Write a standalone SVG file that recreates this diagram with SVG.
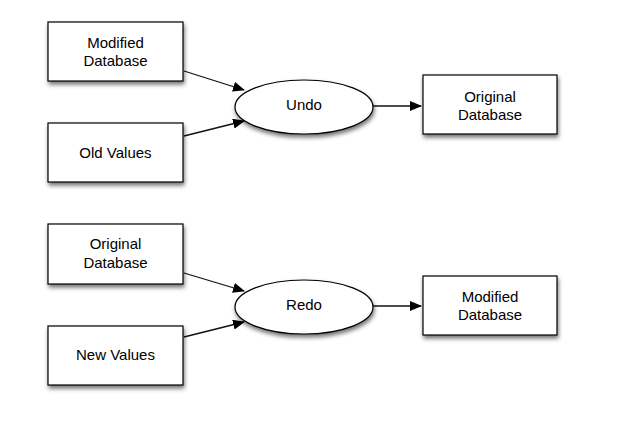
<svg xmlns="http://www.w3.org/2000/svg" width="634" height="433" viewBox="0 0 634 433">
<style>
.n{fill:#fff;stroke:#000;stroke-width:1.2;filter:url(#sh)}
.t{font-family:"Liberation Sans",Arial,sans-serif;font-size:15px;fill:#000;text-anchor:middle}
.c{stroke:#111;stroke-width:1.3;fill:none;marker-end:url(#ah)}
</style>
<defs>
<filter id="sh" x="-20%" y="-20%" width="140%" height="150%">
<feDropShadow dx="1" dy="3" stdDeviation="2" flood-color="#000" flood-opacity="0.55"/>
</filter>
<marker id="ah" markerWidth="12" markerHeight="10" refX="11" refY="5" orient="auto" markerUnits="userSpaceOnUse">
<path d="M0,0 L12,5 L0,10 z" fill="#000"/>
</marker>
</defs>
<rect width="634" height="433" fill="#fff"/>
<g id="connectors">
<line class="c" x1="184" y1="71" x2="244" y2="90"/>
<line class="c" x1="184" y1="136" x2="244" y2="121"/>
<line class="c" x1="373" y1="106" x2="421" y2="106"/>
<line class="c" x1="184" y1="273" x2="244" y2="291"/>
<line class="c" x1="184" y1="337" x2="244" y2="322"/>
<line class="c" x1="373" y1="306" x2="421" y2="306"/>
</g>
<g id="modified1">
<rect class="n" x="48" y="22" width="135" height="59"/>
<text class="t" x="115.5" y="48">Modified</text>
<text class="t" x="115.5" y="66">Database</text>
</g>
<g id="oldvalues">
<rect class="n" x="48" y="123" width="135" height="59"/>
<text class="t" x="115.5" y="158">Old Values</text>
</g>
<g id="undo">
<ellipse class="n" cx="304" cy="107" rx="69" ry="27"/>
<text class="t" x="304" y="110">Undo</text>
</g>
<g id="original1">
<rect class="n" x="423" y="75" width="134" height="59"/>
<text class="t" x="490" y="102">Original</text>
<text class="t" x="490" y="120">Database</text>
</g>
<g id="original2">
<rect class="n" x="48" y="224" width="135" height="60"/>
<text class="t" x="115.5" y="249">Original</text>
<text class="t" x="115.5" y="268">Database</text>
</g>
<g id="newvalues">
<rect class="n" x="48" y="326" width="135" height="59"/>
<text class="t" x="115.5" y="360">New Values</text>
</g>
<g id="redo">
<ellipse class="n" cx="304" cy="307" rx="69" ry="27"/>
<text class="t" x="304" y="310">Redo</text>
</g>
<g id="modified2">
<rect class="n" x="423" y="276" width="134" height="59"/>
<text class="t" x="490" y="302">Modified</text>
<text class="t" x="490" y="320">Database</text>
</g>
</svg>
